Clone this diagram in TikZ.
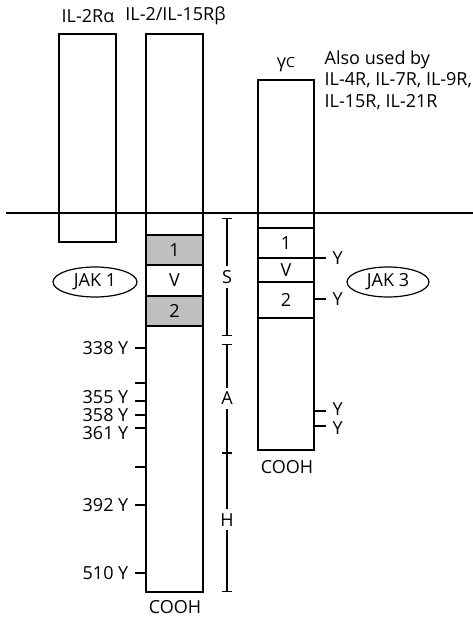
\documentclass[tikz,border=0pt]{standalone}
\usepackage{fontspec}
\setmainfont{Open Sans}
\usetikzlibrary{shapes.geometric,positioning,arrows.meta}
\begin{document}
\begin{tikzpicture}
[x=1pt,y=-1pt,line width=1.4pt,
 every node/.style={font=\fontsize{18}{21.5}\selectfont, inner sep=0pt},
 chainbox/.style={draw, rectangle, minimum width=57pt},
 domain/.style={chainbox, minimum height=#1},
 shade/.style={fill=black!25, line width=2pt},
 jak/.style={draw, ellipse, line width=1.2pt, minimum width=84pt, minimum height=30pt},
 span/.style={{Bar[width=10pt]}-{Bar[width=10pt]}},
 gap/.style={fill=white, inner ysep=4pt}]
\useasboundingbox (0,0) rectangle (473,618);
% receptor chains
\node [chainbox, minimum height=208pt] (ra) at (87.5,138) {};
\node [chainbox, minimum height=558pt] (rb) at (174.5,313) {};
\node [chainbox, minimum width=56pt, minimum height=370pt] (gc) at (286,265) {};
\node (lra) at (88,16) {IL-2Rα};
\node (lrb) at (175.5,16) {IL-2/IL-15Rβ};
\node (lgc) at (286,65) {γ{\fontsize{14}{15}\selectfont C}};
\node [anchor=north west, align=left] (also) at (324,50) {Also used by\\IL-4R, IL-7R, IL-9R,\\IL-15R, IL-21R};
% box 1 / V / box 2
\node [domain=30pt, shade] (b1) at (174.5,250) {1};
\node [domain=31pt] (bv) at (174.5,280.5) {V};
\node [domain=30pt, shade] (b2) at (174.5,311) {2};
\node [domain=30pt, minimum width=56pt] (g1) at (286,243) {1};
\node [domain=24pt, minimum width=56pt] (gv) at (286,270) {V};
\node [domain=36pt, minimum width=56pt] (g2) at (286,300) {2};
\node [jak] (jak1) at (95,282) {JAK 1};
\node [jak, minimum width=82pt] (jak3) at (388,282) {JAK 3};
\node (cb) at (175,607) {COOH};
\node (cg) at (287,467) {COOH};
% tyrosines on gamma c
\foreach \yy/\ly in {258/258,299/299,411/409,426/428}
{
\coordinate (t\yy) at (326,\yy);
\draw (t\yy -| gc.east) -- (t\yy);
\node [anchor=west] (y\yy) at (332,\ly) {Y};
}
% tyrosines on beta
\foreach \yy/\ly/\lab in {348/348/338 Y,383/383/,401/397/355 Y,415/415/358 Y,428/433/361 Y,467/467/,505/505/392 Y,573/573/510 Y}
{
\coordinate (k\yy) at (135,\yy);
\draw (k\yy) -- (k\yy -| rb.west);
\node [anchor=east] (n\yy) at (129,\ly) {\lab};
}
% S, A, H regions
\coordinate (s0) at (227,218);
\coordinate (s1) at (227,336);
\coordinate (a0) at (227,344);
\coordinate (a1) at (227,453);
\coordinate (h1) at (227,592);
\draw [span] (s0) -- (s1) node [midway, gap] (ls) {S};
\draw [span] (a0) -- (a1) node [midway, gap] (la) {A};
\draw [span] (a1) -- (h1) node [pos=0.48, gap] (lh) {H};
% membrane
\coordinate (m0) at (6,213);
\coordinate (m1) at (473,213);
\draw (m0) -- (m1);
\end{tikzpicture}
\end{document}
